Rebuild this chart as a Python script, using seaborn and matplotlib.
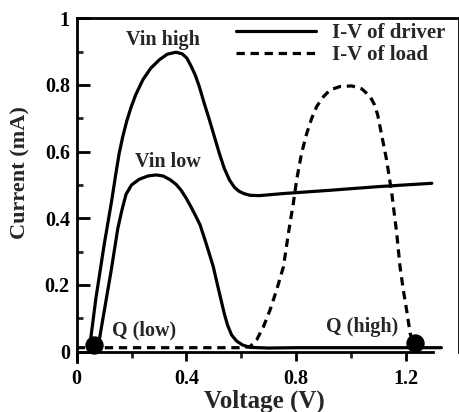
import matplotlib
matplotlib.use("Agg")
import matplotlib.pyplot as plt
import seaborn as sns
import pandas as pd

# ---- data ----
vin_high_v = [0.045, 0.07, 0.1, 0.128, 0.142, 0.155, 0.168, 0.182, 0.197, 0.215, 0.241, 0.27,
              0.301, 0.33, 0.362, 0.385, 0.402, 0.418, 0.432, 0.447, 0.465, 0.484, 0.502,
              0.52, 0.538, 0.557, 0.575, 0.592, 0.61, 0.632, 0.666, 0.75, 0.924, 1.1, 1.295]
vin_high_i = [0.0, 0.16, 0.32, 0.455, 0.53, 0.595, 0.645, 0.69, 0.73, 0.77, 0.815, 0.85,
              0.875, 0.892, 0.898, 0.893, 0.88, 0.855, 0.83, 0.795, 0.745, 0.695, 0.645,
              0.595, 0.55, 0.515, 0.493, 0.481, 0.474, 0.469, 0.468, 0.474, 0.484, 0.495, 0.505]

vin_low_v = [0.075, 0.1, 0.125, 0.15, 0.165, 0.18, 0.2, 0.228, 0.26, 0.289, 0.315, 0.34,
             0.362, 0.38, 0.398, 0.415, 0.432, 0.45, 0.466, 0.482, 0.498, 0.512, 0.525,
             0.538, 0.55, 0.565, 0.583, 0.605, 0.632, 0.7, 0.8, 1.33]
vin_low_i = [0.0, 0.12, 0.24, 0.37, 0.425, 0.472, 0.5, 0.517, 0.527, 0.53, 0.527, 0.516,
             0.502, 0.485, 0.462, 0.437, 0.41, 0.38, 0.34, 0.298, 0.255, 0.205, 0.16,
             0.115, 0.08, 0.05, 0.032, 0.02, 0.013, 0.011, 0.012, 0.012]

load_v = [0.0, 0.6, 0.632, 0.656, 0.681, 0.705, 0.729, 0.754, 0.772, 0.79, 0.802, 0.82, 0.839,
          0.857, 0.875, 0.9, 0.924, 0.96, 1.003, 1.04, 1.07, 1.085, 1.097, 1.106, 1.118,
          1.13, 1.149, 1.155, 1.167, 1.179, 1.191, 1.203, 1.216, 1.225, 1.234]
load_i = [0.012, 0.012, 0.015, 0.035, 0.075, 0.125, 0.185, 0.255, 0.355, 0.445, 0.515, 0.595,
          0.655, 0.7, 0.735, 0.765, 0.785, 0.795, 0.797, 0.788, 0.765, 0.742, 0.712, 0.675,
          0.625, 0.575, 0.475, 0.435, 0.355, 0.255, 0.185, 0.125, 0.055, 0.03, 0.025]

q_v = [0.064, 1.234]
q_i = [0.02, 0.025]

x_ticks = [0, 0.4, 0.8, 1.2]
x_ticklabels = ["0", "0.4", "0.8", "1.2"]
x_minor = [0.2, 0.6, 1.0]
y_ticks = [0, 0.2, 0.4, 0.6, 0.8, 1.0]
y_ticklabels = ["0", "0.2", "0.4", "0.6", "0.8", "1"]
y_minor = [0.1, 0.3, 0.5, 0.7, 0.9]

legend_labels = ["I-V of driver", "I-V of load"]
annotations = [("Vin high", 0.315, 0.935), ("Vin low", 0.333, 0.569),
               ("Q (low)", 0.244, 0.065), ("Q (high)", 1.042, 0.075)]

# ---- style ----
sns.set_style("ticks")
plt.rcParams["font.family"] = ["Liberation Serif", "DejaVu Serif"]
plt.rcParams["font.weight"] = "bold"
plt.rcParams["axes.labelweight"] = "bold"

fs = 14.5
fig = plt.figure(figsize=(4.6, 4.12), dpi=100)
ax = fig.add_axes([76.7 / 460, 1 - 361.7 / 412, 382 / 460, (361.7 - 18.2) / 412])

lw = 2.3
df_h = pd.DataFrame({"V": vin_high_v, "I": vin_high_i})
df_l = pd.DataFrame({"V": vin_low_v, "I": vin_low_i})
df_d = pd.DataFrame({"V": load_v, "I": load_i})
df_q = pd.DataFrame({"V": q_v, "I": q_i})

sns.lineplot(data=df_h, x="V", y="I", ax=ax, color="black", linewidth=lw,
             sort=False, estimator=None, legend=False)
h_driver = ax.lines[-1]
sns.lineplot(data=df_l, x="V", y="I", ax=ax, color="black", linewidth=lw,
             sort=False, estimator=None, legend=False)
sns.lineplot(data=df_d, x="V", y="I", ax=ax, color="black", linewidth=lw,
             sort=False, estimator=None, legend=False)
h_load = ax.lines[-1]
h_load.set_dashes((2.6, 1.8))
for ln in ax.lines:
    ln.set_solid_joinstyle("round")
    ln.set_dash_joinstyle("round")
sns.scatterplot(data=df_q, x="V", y="I", ax=ax, color="black", s=150,
                edgecolor="black", zorder=5, legend=False)

for txt, xv, yv in annotations:
    ax.text(xv, yv, txt, ha="center", va="center", fontsize=fs, fontweight="bold")

ax.set_xlim(0, 1.393)
ax.set_ylim(-0.03, 1.0)
ax.set_xticks(x_ticks)
ax.set_xticklabels(x_ticklabels)
ax.set_xticks(x_minor, minor=True)
ax.set_yticks(y_ticks)
ax.set_yticklabels(y_ticklabels)
ax.set_yticks(y_minor, minor=True)

for s in ax.spines.values():
    s.set_linewidth(2.0)
    s.set_color("black")
ax.spines["bottom"].set_position(("data", 0))
ax.spines["bottom"].set_bounds(0, 1.3)
ax.spines["right"].set_bounds(0, 1.0)

ax.tick_params(axis="y", which="major", direction="in", length=9, width=2, pad=5,
               labelsize=fs, colors="black")
ax.tick_params(axis="y", which="minor", direction="in", length=4.5, width=2)
ax.tick_params(axis="x", which="major", direction="out", length=6.5, width=2, pad=6,
               labelsize=fs, colors="black")
ax.tick_params(axis="x", which="minor", direction="out", length=4, width=2)
for lab in ax.get_xticklabels() + ax.get_yticklabels():
    lab.set_fontweight("bold")

ax.set_xlabel("Voltage (V)", fontsize=18, fontweight="bold", va="center")
ax.xaxis.set_label_coords(0.49, -0.1165)
ax.set_ylabel("Current (mA)", fontsize=16, fontweight="bold", va="center")
ax.yaxis.set_label_coords(-0.148, 0.551)

fs_leg = 15
fs_px = fs_leg * 100 / 72
leg = ax.legend([h_driver, h_load], legend_labels, loc="upper left",
                bbox_to_anchor=(236 / 460, 1 - 23 / 412), bbox_transform=fig.transFigure,
                frameon=False, borderaxespad=0, borderpad=0,
                handlelength=80 / fs_px, handletextpad=0.75, labelspacing=0.1,
                prop={"weight": "bold", "size": fs_leg})

fig.savefig("out.png", dpi=100)
